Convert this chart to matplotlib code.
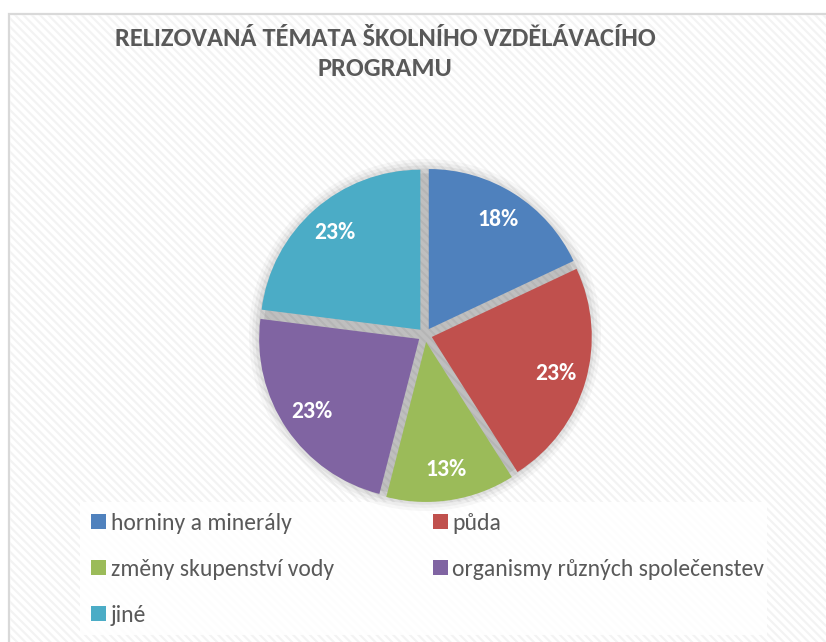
import matplotlib
matplotlib.use("Agg")
import matplotlib.pyplot as plt
from matplotlib.patches import Rectangle, Circle

# data
categories = ["horniny a minerály", "půda", "změny skupenství vody",
              "organismy různých společenstev", "jiné"]
shares = [18, 23, 13, 23, 23]
colors = ["#4F81BD", "#C0504D", "#9BBB59", "#8064A2", "#4BACC6"]
title = "RELIZOVANÁ TÉMATA ŠKOLNÍHO VZDĚLÁVACÍHO\nPROGRAMU"

W, H = 826, 642
plt.rcParams["font.family"] = ["Carlito", "Lato", "DejaVu Sans"]
plt.rcParams["hatch.linewidth"] = 1.6
text_gray = "#595959"

fig = plt.figure(figsize=(W / 100, H / 100), dpi=100)
fig.patch.set_facecolor("white")

# background: chart area with the diagonal stripe texture
bg = fig.add_axes([0, 0, 1, 1])
bg.set_xlim(0, W)
bg.set_ylim(H, 0)
bg.axis("off")
bg.add_patch(Rectangle((9, 14), 840, 660, facecolor="white",
                       edgecolor="#d9d9d9", lw=1.6))
bg.add_patch(Rectangle((10, 15), 840, 660, facecolor="none",
                       edgecolor="#f3f3f3", lw=0, hatch="\\\\\\\\"))
# legend panel
bg.add_patch(Rectangle((80, 502), 687, 133, facecolor="white",
                       edgecolor="none", alpha=0.85))

fig.text(385 / W, 1 - 53.5 / H, title, ha="center", va="center",
         fontsize=19, fontweight="bold", color=text_gray, linespacing=1.32)

# pie
cx, cy, R = 425, 335, 160
side = 2.4 * R
ax = fig.add_axes([(cx - side / 2) / W, (H - cy - side / 2) / H, side / W, side / H])
ax.axis("off")

# soft shadow under the slices
for r, a in [(1.10, 0.03), (1.08, 0.04), (1.06, 0.05), (1.04, 0.07), (1.01, 0.08)]:
    ax.add_patch(Circle((0, 0), r, facecolor="black", edgecolor="none", alpha=a))

wedges, texts, autotexts = ax.pie(
    shares, colors=colors, startangle=90, counterclock=False,
    explode=[0.044] * len(shares), autopct="%.0f%%", pctdistance=0.81,
    radius=1.0, wedgeprops=dict(linewidth=0),
    textprops=dict(color="white", fontsize=17, fontweight="bold"))
ax.set_xlim(-1.2, 1.2)
ax.set_ylim(-1.2, 1.2)
ax.set_aspect("equal")

order = [0, 2, 4, 1, 3]
leg = fig.legend([wedges[i] for i in order], [categories[i] for i in order],
                 loc="upper left", bbox_to_anchor=(91 / W, 1 - 513 / H),
                 ncol=2, frameon=False, labelcolor=text_gray, fontsize=17,
                 handlelength=0.63, handleheight=0.63, handletextpad=0.2,
                 labelspacing=1.06, columnspacing=4.2, borderpad=0,
                 borderaxespad=0)

fig.savefig("out.png", dpi=100)
